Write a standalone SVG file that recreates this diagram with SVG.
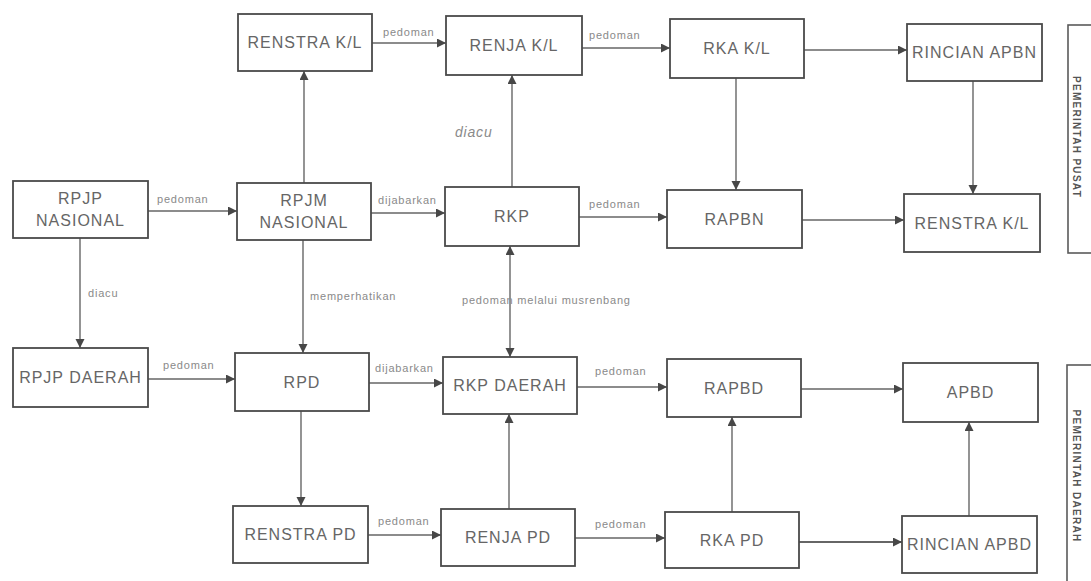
<svg xmlns="http://www.w3.org/2000/svg" width="1091" height="581" viewBox="0 0 1091 581">
<defs>
<style>
.box{fill:#fff;stroke:#4a4a4a;stroke-width:1.8}
.side{fill:#fff;stroke:#5a5a5a;stroke-width:1.6}
.t{font-family:"Liberation Sans",Arial,sans-serif;font-size:16px;letter-spacing:1px;fill:#666;text-anchor:middle}
.vt{font-family:"Liberation Sans",Arial,sans-serif;font-size:10px;letter-spacing:1.3px;fill:#555;text-anchor:middle;font-weight:bold}
.lbl{font-family:"Liberation Sans",Arial,sans-serif;font-size:11px;letter-spacing:0.8px;fill:#8a8a8a}
.c{fill:none;stroke:#666;stroke-width:1.4;marker-end:url(#ah)}
</style>
<marker id="ah" markerUnits="userSpaceOnUse" markerWidth="10" markerHeight="10" refX="9" refY="4.5" orient="auto-start-reverse">
<path d="M0,0 L9,4.5 L0,9 z" fill="#474747"/>
</marker>
</defs>
<rect width="1091" height="581" fill="#fff"/>

<g id="connectors">
<line class="c" x1="372" y1="43" x2="446" y2="43"/>
<line class="c" x1="582" y1="48" x2="670" y2="48"/>
<line class="c" x1="804" y1="50" x2="907" y2="50"/>
<line class="c" x1="148" y1="211" x2="237" y2="211"/>
<line class="c" x1="371" y1="213" x2="445" y2="213"/>
<line class="c" x1="579" y1="217" x2="667" y2="217"/>
<line class="c" x1="802" y1="220" x2="904" y2="220"/>
<line class="c" x1="304" y1="183" x2="304" y2="71"/>
<line class="c" x1="512" y1="187" x2="512" y2="75"/>
<line class="c" x1="736" y1="78" x2="736" y2="190"/>
<line class="c" x1="973" y1="81" x2="973" y2="194"/>
<line class="c" x1="80" y1="238" x2="80" y2="348"/>
<line class="c" x1="303" y1="240" x2="303" y2="353"/>
<line class="c" x1="510" y1="246" x2="510" y2="357" style="marker-start:url(#ah)"/>
<line class="c" x1="148" y1="379" x2="235" y2="379"/>
<line class="c" x1="369" y1="383" x2="443" y2="383"/>
<line class="c" x1="577" y1="387" x2="667" y2="387"/>
<line class="c" x1="801" y1="389" x2="903" y2="389"/>
<line class="c" x1="301" y1="411" x2="301" y2="506"/>
<line class="c" x1="509" y1="509" x2="509" y2="414"/>
<line class="c" x1="732" y1="512" x2="732" y2="417"/>
<line class="c" x1="969" y1="516" x2="969" y2="422"/>
<line class="c" x1="368" y1="535" x2="441" y2="535"/>
<line class="c" x1="575" y1="538" x2="665" y2="538"/>
<line class="c" x1="799" y1="542" x2="902" y2="542" style="stroke-width:2"/>
<text class="lbl" x="383" y="36">pedoman</text>
<text class="lbl" x="589" y="39">pedoman</text>
<text class="lbl" x="157" y="203">pedoman</text>
<text class="lbl" x="378" y="204">dijabarkan</text>
<text class="lbl" x="589" y="208">pedoman</text>
<text class="lbl" x="455" y="137" style="font-size:14px;font-style:italic">diacu</text>
<text class="lbl" x="88" y="297">diacu</text>
<text class="lbl" x="310" y="300">memperhatikan</text>
<text class="lbl" x="462" y="304">pedoman melalui musrenbang</text>
<text class="lbl" x="163" y="369">pedoman</text>
<text class="lbl" x="375" y="372">dijabarkan</text>
<text class="lbl" x="595" y="375">pedoman</text>
<text class="lbl" x="378" y="525">pedoman</text>
<text class="lbl" x="595" y="528">pedoman</text>
</g>

<g id="renstra-kl-top"><rect class="box" x="238" y="14" width="134" height="57"/><text class="t" x="305" y="48">RENSTRA K/L</text></g>
<g id="renja-kl"><rect class="box" x="446" y="16" width="136" height="59"/><text class="t" x="514" y="51">RENJA K/L</text></g>
<g id="rka-kl"><rect class="box" x="670" y="19" width="134" height="59"/><text class="t" x="737" y="54">RKA K/L</text></g>
<g id="rincian-apbn"><rect class="box" x="907" y="24" width="135" height="57"/><text class="t" x="974.5" y="58">RINCIAN APBN</text></g>

<g id="rpjp-nasional"><rect class="box" x="13" y="181" width="135" height="57"/><text class="t" x="80.5" y="204">RPJP</text><text class="t" x="80.5" y="226">NASIONAL</text></g>
<g id="rpjm-nasional"><rect class="box" x="237" y="183" width="134" height="57"/><text class="t" x="304" y="206">RPJM</text><text class="t" x="304" y="228">NASIONAL</text></g>
<g id="rkp"><rect class="box" x="445" y="187" width="134" height="59"/><text class="t" x="512" y="222">RKP</text></g>
<g id="rapbn"><rect class="box" x="667" y="190" width="135" height="58"/><text class="t" x="734.5" y="224.5">RAPBN</text></g>
<g id="renstra-kl-right"><rect class="box" x="904" y="194" width="136" height="58"/><text class="t" x="972" y="228.5">RENSTRA K/L</text></g>

<g id="rpjp-daerah"><rect class="box" x="13" y="348" width="135" height="59"/><text class="t" x="80.5" y="383">RPJP DAERAH</text></g>
<g id="rpd"><rect class="box" x="235" y="353" width="134" height="58"/><text class="t" x="302" y="387.5">RPD</text></g>
<g id="rkp-daerah"><rect class="box" x="443" y="357" width="134" height="57"/><text class="t" x="510" y="391">RKP DAERAH</text></g>
<g id="rapbd"><rect class="box" x="667" y="359" width="134" height="58"/><text class="t" x="734" y="393.5">RAPBD</text></g>
<g id="apbd"><rect class="box" x="903" y="363" width="135" height="59"/><text class="t" x="970.5" y="398">APBD</text></g>

<g id="renstra-pd"><rect class="box" x="233" y="506" width="135" height="57"/><text class="t" x="300.5" y="540">RENSTRA PD</text></g>
<g id="renja-pd"><rect class="box" x="441" y="509" width="134" height="57"/><text class="t" x="508" y="543">RENJA PD</text></g>
<g id="rka-pd"><rect class="box" x="665" y="512" width="134" height="56"/><text class="t" x="732" y="545.5">RKA PD</text></g>
<g id="rincian-apbd"><rect class="box" x="902" y="516" width="135" height="57"/><text class="t" x="969.5" y="550">RINCIAN APBD</text></g>

<g id="pemerintah-pusat"><rect class="side" x="1068" y="25" width="40" height="228"/><text class="vt" transform="translate(1076,137) rotate(90)" x="0" y="3.5">PEMERINTAH PUSAT</text></g>
<g id="pemerintah-daerah"><rect class="side" x="1067" y="365" width="40" height="240"/><text class="vt" transform="translate(1076,476) rotate(90)" x="0" y="3.5">PEMERINTAH DAERAH</text></g>
</svg>
